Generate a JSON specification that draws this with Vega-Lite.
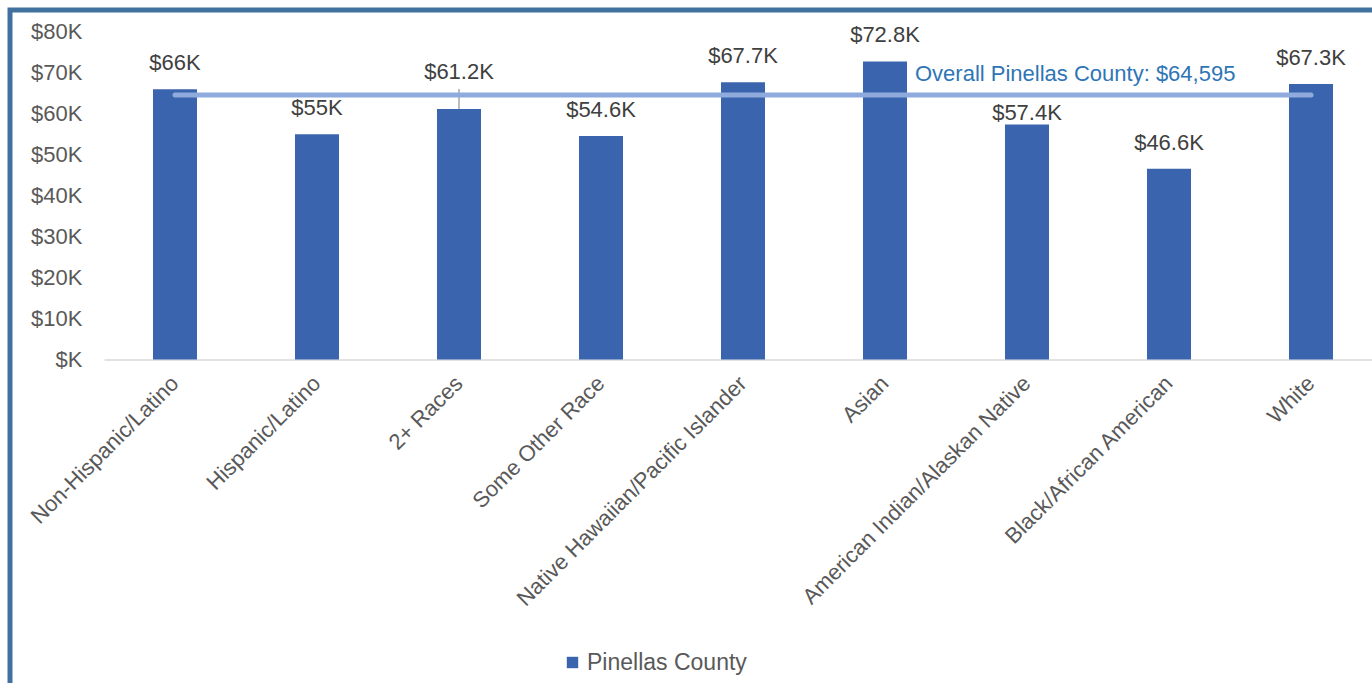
{
  "$schema": "https://vega.github.io/schema/vega-lite/v6.json",
  "autosize": "none",
  "width": 1366,
  "height": 677,
  "padding": {"left": 10, "top": 10, "right": -4, "bottom": -4},
  "background": "white",
  "config": {
    "font": "Liberation Sans",
    "view": {"stroke": "#41729F", "strokeWidth": 5}
  },
  "data": {
    "values": [
      {"group": "Non-Hispanic/Latino", "value": 66000},
      {"group": "Hispanic/Latino", "value": 55000},
      {"group": "2+ Races", "value": 61200},
      {"group": "Some Other Race", "value": 54600},
      {"group": "Native Hawaiian/Pacific Islander", "value": 67700},
      {"group": "Asian", "value": 72800},
      {"group": "American Indian/Alaskan Native", "value": 57400},
      {"group": "Black/African American", "value": 46600},
      {"group": "White", "value": 67300}
    ]
  },
  "encoding": {
    "x": {
      "field": "group",
      "type": "nominal",
      "sort": null,
      "scale": {"range": [94, 1372], "paddingInner": 0.69, "paddingOuter": 0.345},
      "axis": {
        "title": null,
        "orient": "bottom",
        "offset": -327.5,
        "labelAngle": -45,
        "labelAlign": "right",
        "labelBaseline": "middle",
        "labelFontSize": 22,
        "labelColor": "#595959",
        "labelPadding": 20,
        "labelLimit": 0,
        "ticks": false,
        "tickSize": 0,
        "domainColor": "#D9D9D9",
        "domainWidth": 1.5,
        "grid": false
      }
    }
  },
  "layer": [
    {
      "mark": {"type": "bar"},
      "encoding": {
        "y": {
          "field": "value",
          "type": "quantitative",
          "scale": {"domain": [-80000, 85374], "nice": false, "zero": false},
          "axis": {
            "title": null,
            "orient": "left",
            "offset": -90,
            "values": [0, 10000, 20000, 30000, 40000, 50000, 60000, 70000, 80000],
            "labelExpr": "'$' + (datum.value == 0 ? '' : datum.value / 1000) + 'K'",
            "labelFontSize": 22,
            "labelColor": "#595959",
            "labelPadding": 18,
            "ticks": false,
            "tickSize": 0,
            "domain": false,
            "grid": false
          }
        },
        "y2": {"datum": 0},
        "color": {
          "datum": "Pinellas County",
          "type": "nominal",
          "scale": {"range": ["#3A64AD"]},
          "legend": {
            "title": null,
            "orient": "none",
            "legendX": 551,
            "legendY": 641,
            "symbolType": "square",
            "symbolSize": 130,
            "symbolStrokeWidth": 0,
            "labelFontSize": 23,
            "labelColor": "#595959",
            "labelOffset": 3,
            "padding": 0
          }
        }
      }
    },
    {
      "transform": [{"filter": "datum.group == '2+ Races'"}],
      "mark": {"type": "rule", "color": "#A6A6A6", "strokeWidth": 1.5},
      "encoding": {
        "y": {"field": "value", "type": "quantitative"},
        "y2": {"datum": 66100}
      }
    },
    {
      "data": {"values": [{"overall": 64595}]},
      "mark": {"type": "rule", "color": "#8FAADC", "strokeWidth": 5, "strokeCap": "round"},
      "encoding": {
        "x": {"datum": "Non-Hispanic/Latino"},
        "x2": {"datum": "White"},
        "y": {"field": "overall", "type": "quantitative"}
      }
    },
    {
      "data": {"values": [{"overall": 64595}]},
      "mark": {"type": "text", "align": "left", "baseline": "middle", "dx": 30, "dy": -21, "fontSize": 22, "color": "#2E75B6"},
      "encoding": {
        "x": {"datum": "Asian"},
        "y": {"field": "overall", "type": "quantitative"},
        "text": {"value": "Overall Pinellas County: $64,595"}
      }
    },
    {
      "transform": [
        {"filter": "datum.group != '2+ Races' && datum.group != 'American Indian/Alaskan Native'"},
        {"calculate": "'$' + format(datum.value / 1000, '.1~f') + 'K'", "as": "label"}
      ],
      "mark": {"type": "text", "baseline": "middle", "dy": -26, "fontSize": 22, "color": "#404040"},
      "encoding": {
        "y": {"field": "value", "type": "quantitative"},
        "text": {"field": "label"}
      }
    },
    {
      "transform": [
        {"filter": "datum.group == 'American Indian/Alaskan Native'"},
        {"calculate": "'$' + format(datum.value / 1000, '.1~f') + 'K'", "as": "label"}
      ],
      "mark": {"type": "text", "baseline": "middle", "dy": -12, "fontSize": 22, "color": "#404040"},
      "encoding": {
        "y": {"field": "value", "type": "quantitative"},
        "text": {"field": "label"}
      }
    },
    {
      "transform": [
        {"filter": "datum.group == '2+ Races'"},
        {"calculate": "'$' + format(datum.value / 1000, '.1~f') + 'K'", "as": "label"}
      ],
      "mark": {"type": "text", "baseline": "middle", "dy": -37, "fontSize": 22, "color": "#404040"},
      "encoding": {
        "y": {"field": "value", "type": "quantitative"},
        "text": {"field": "label"}
      }
    }
  ]
}
